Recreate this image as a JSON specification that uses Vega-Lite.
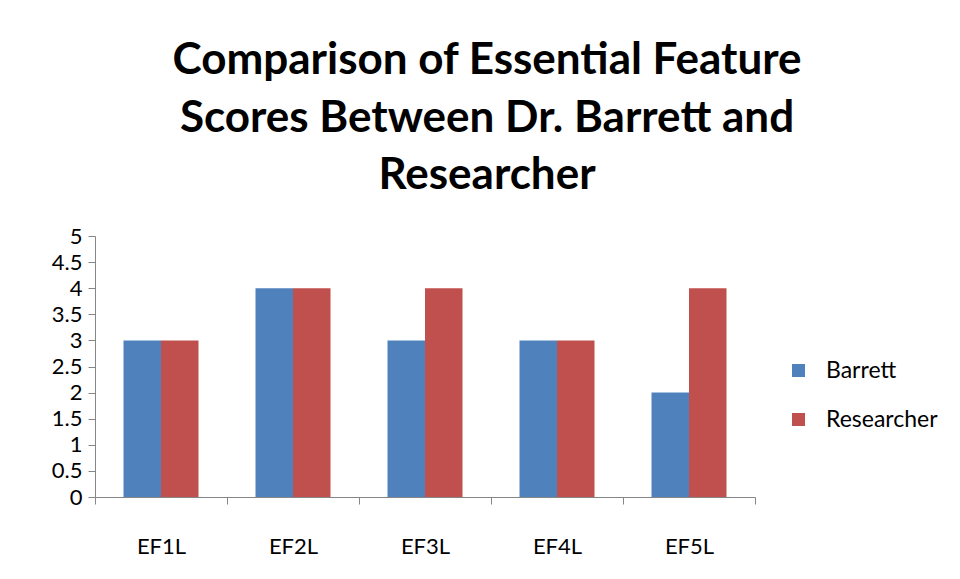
{
  "$schema": "https://vega.github.io/schema/vega-lite/v6.json",
  "width": 660,
  "height": 261,
  "autosize": {"type": "none"},
  "padding": {"left": 95, "top": 236, "right": 205, "bottom": 82},
  "background": "white",
  "title": {
    "text": ["Comparison of Essential Feature", "Scores Between Dr. Barrett and", "Researcher"],
    "font": "Lato",
    "fontSize": 44,
    "fontWeight": "bold",
    "color": "black",
    "anchor": "middle",
    "dx": 62,
    "offset": 27,
    "lineHeight": 57.5
  },
  "data": {
    "values": [
      {"feature": "EF1L", "rater": "Barrett", "score": 3},
      {"feature": "EF1L", "rater": "Researcher", "score": 3},
      {"feature": "EF2L", "rater": "Barrett", "score": 4},
      {"feature": "EF2L", "rater": "Researcher", "score": 4},
      {"feature": "EF3L", "rater": "Barrett", "score": 3},
      {"feature": "EF3L", "rater": "Researcher", "score": 4},
      {"feature": "EF4L", "rater": "Barrett", "score": 3},
      {"feature": "EF4L", "rater": "Researcher", "score": 3},
      {"feature": "EF5L", "rater": "Barrett", "score": 2},
      {"feature": "EF5L", "rater": "Researcher", "score": 4}
    ]
  },
  "mark": {"type": "bar"},
  "encoding": {
    "x": {
      "field": "feature",
      "type": "nominal",
      "scale": {"paddingInner": 0, "paddingOuter": 0},
      "axis": {
        "title": null,
        "labelAngle": 0,
        "tickBand": "extent",
        "labelFont": "Lato",
        "labelFontSize": 22,
        "labelColor": "black",
        "labelPadding": 32,
        "domainColor": "#868686",
        "tickColor": "#868686",
        "tickSize": 7,
        "grid": false
      }
    },
    "xOffset": {"field": "rater", "type": "nominal", "scale": {"paddingInner": 0, "paddingOuter": 0.76}},
    "y": {
      "field": "score",
      "type": "quantitative",
      "scale": {"domain": [0, 5], "nice": false},
      "axis": {
        "title": null,
        "values": [0, 0.5, 1, 1.5, 2, 2.5, 3, 3.5, 4, 4.5, 5],
        "format": "~g",
        "labelFont": "Lato",
        "labelFontSize": 22,
        "labelColor": "black",
        "labelPadding": 6,
        "domainColor": "#868686",
        "tickColor": "#868686",
        "tickSize": 7,
        "grid": false
      }
    },
    "color": {
      "field": "rater",
      "type": "nominal",
      "scale": {"domain": ["Barrett", "Researcher"], "range": ["#4F81BD", "#C0504D"]},
      "legend": {
        "title": null,
        "orient": "none",
        "legendX": 692,
        "legendY": 123,
        "symbolType": "square",
        "symbolSize": 170,
        "symbolStrokeWidth": 0,
        "labelFont": "Lato",
        "labelFontSize": 23,
        "labelColor": "black",
        "rowPadding": 25,
        "labelOffset": 16
      }
    }
  },
  "config": {"view": {"stroke": null}}
}
